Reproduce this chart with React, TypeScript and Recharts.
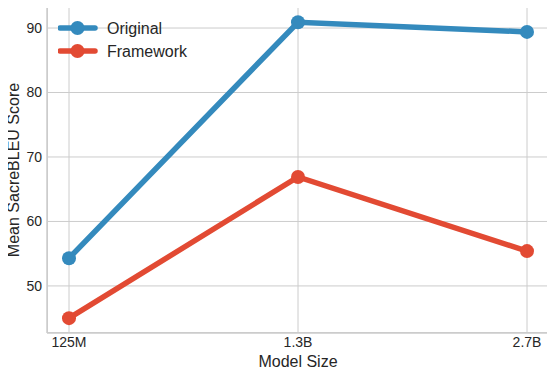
import { LineChart, Line, XAxis, YAxis, CartesianGrid } from 'recharts'

const modelSizes = ['125M', '1.3B', '2.7B']
const original = [54.3, 90.9, 89.4]
const framework = [45.0, 66.9, 55.4]
const yTicks = [50, 60, 70, 80, 90]

const SERIES = [
  { key: 'original', name: 'Original', color: '#348ABD' },
  { key: 'framework', name: 'Framework', color: '#E24A33' },
]

const data = modelSizes.map((size, i) => ({ size, original: original[i], framework: framework[i] }))

const FONT = '"Liberation Sans", Arial, sans-serif'
const TEXT = '#262626'
const GRID = '#cccccc'

function LegendBox() {
  return (
    <svg width={150} height={50} style={{ position: 'absolute', left: 58, top: 18 }}>
      {SERIES.map((s, i) => {
        const y = 10 + i * 23
        return (
          <g key={s.key}>
            <line x1={2} x2={37} y1={y} y2={y} stroke={s.color} strokeWidth={5.5} strokeLinecap="round" />
            <circle cx={19.5} cy={y} r={7} fill={s.color} />
            <text x={49} y={y} dy="0.35em" fontSize={16} fill={TEXT} fontFamily={FONT}>{s.name}</text>
          </g>
        )
      })}
    </svg>
  )
}

const xLabel = (props: any) => {
  const vb = props.viewBox
  return (
    <text x={vb.x + vb.width / 2} y={361} dy="0.35em" textAnchor="middle" fontSize={16} fill={TEXT} fontFamily={FONT}>
      Model Size
    </text>
  )
}

const yLabel = (props: any) => {
  const vb = props.viewBox
  const cy = vb.y + vb.height / 2
  return (
    <text x={13} y={cy} dy="0.35em" textAnchor="middle" transform={`rotate(-90 13 ${cy})`} fontSize={16} fill={TEXT} fontFamily={FONT}>
      Mean SacreBLEU Score
    </text>
  )
}

export default function App() {
  return (
    <div style={{ margin: -8, width: 555, height: 377, background: '#fff', position: 'relative', fontFamily: FONT }}>
      <LineChart width={555} height={377} data={data} margin={{ top: 7, right: 6, left: 0, bottom: 0 }}>
        <CartesianGrid stroke={GRID} strokeWidth={1} horizontal vertical />
        <XAxis
          dataKey="size"
          padding={{ left: 22, right: 22 }}
          height={44}
          tickLine={false}
          tickSize={0}
          axisLine={{ stroke: GRID }}
          tick={{ fontSize: 14, fill: TEXT, fontFamily: FONT }}
          tickMargin={4}
          label={xLabel}
        />
        <YAxis
          domain={[42.7, 93.26]}
          ticks={yTicks}
          width={47}
          tickLine={false}
          tickSize={0}
          axisLine={{ stroke: GRID }}
          tick={{ fontSize: 14, fill: TEXT, fontFamily: FONT }}
          tickMargin={5}
          allowDataOverflow
          label={yLabel}
        />
        {SERIES.map((s) => (
          <Line
            key={s.key}
            type="linear"
            dataKey={s.key}
            name={s.name}
            stroke={s.color}
            strokeWidth={5.5}
            dot={{ r: 7, fill: s.color, stroke: s.color, strokeWidth: 0 }}
            activeDot={false}
            isAnimationActive={false}
          />
        ))}
      </LineChart>
      <div style={{ position: 'absolute', left: 47, top: 7, width: 502, height: 326, border: `1px solid ${GRID}`, boxSizing: 'border-box', pointerEvents: 'none' }} />
      <LegendBox />
    </div>
  )
}
